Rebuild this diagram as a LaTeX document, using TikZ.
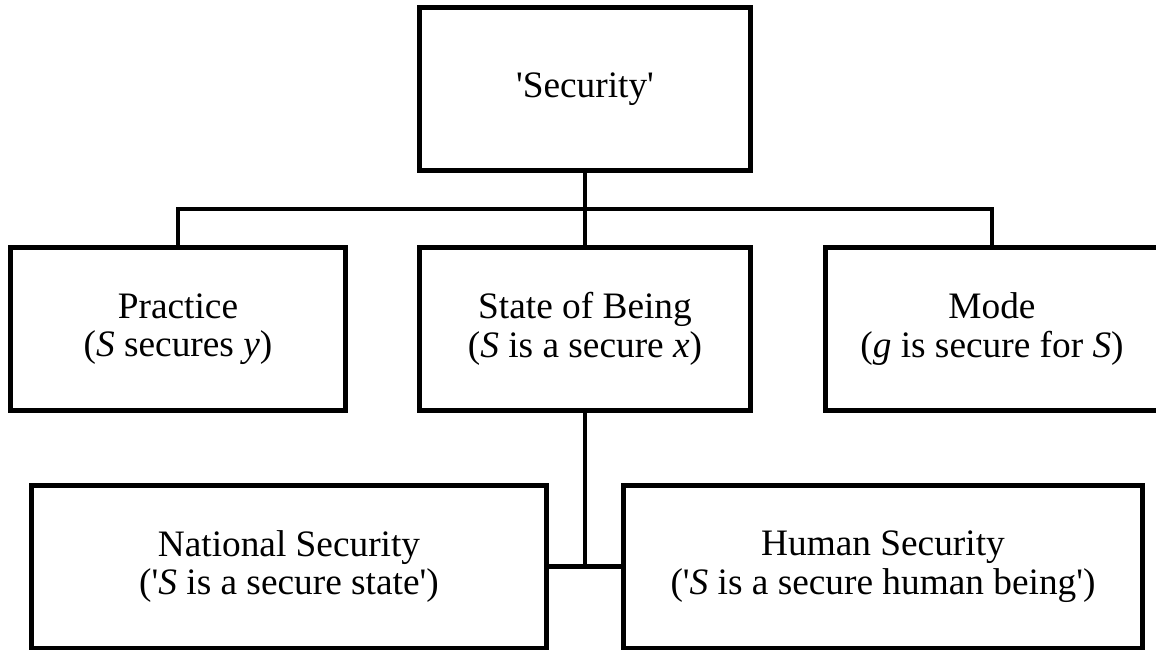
\documentclass[tikz,border=0pt]{standalone}
\usepackage{fontspec}
\setmainfont{Liberation Serif}
\newcommand{\sq}{\textquotesingle}
\tikzset{
  termbox/.style={draw, line width=3.4pt, inner sep=0pt, align=center,
    font=\fontsize{28}{28.8}\selectfont, minimum height=122.5pt},
  link/.style={line width=3.4pt}
}
\begin{document}
\begin{tikzpicture}[x=0.75pt,y=0.75pt,yscale=-1]
\useasboundingbox (0,0) rectangle (1156,652);
% Boxes
\node [termbox, minimum width=248pt] (security) at (585,89) {\sq Security\sq};
\node [termbox, minimum width=251.6pt] (practice) at (178,329) {Practice\\(\textit{S} secures \textit{y})};
\node [termbox, minimum width=248pt] (being) at (585,329) {State of Being\\(\textit{S} is a secure \textit{x})};
\node [termbox, minimum width=250pt] (mode) at (992,329) {Mode\\(\textit{g} is secure for \textit{S})};
\node [termbox, minimum width=386.6pt, minimum height=121.9pt] (national) at (289,566.5) {National Security\\(\sq\textit{S} is a secure state\sq)};
\node [termbox, minimum width=389.6pt, minimum height=121.9pt] (human) at (883,566.5) {Human Security\\(\sq\textit{S} is a secure human being\sq)};
% Connectors
\coordinate (bar) at (585,209);
\draw [link] (security.south) -- (being.north);
\draw [link] (practice.north) |- (bar) -| (mode.north);
\draw [link] (being.south) -- (being.south |- national.east);
\draw [link] (national.east) -- (human.west);
\end{tikzpicture}
\end{document}
